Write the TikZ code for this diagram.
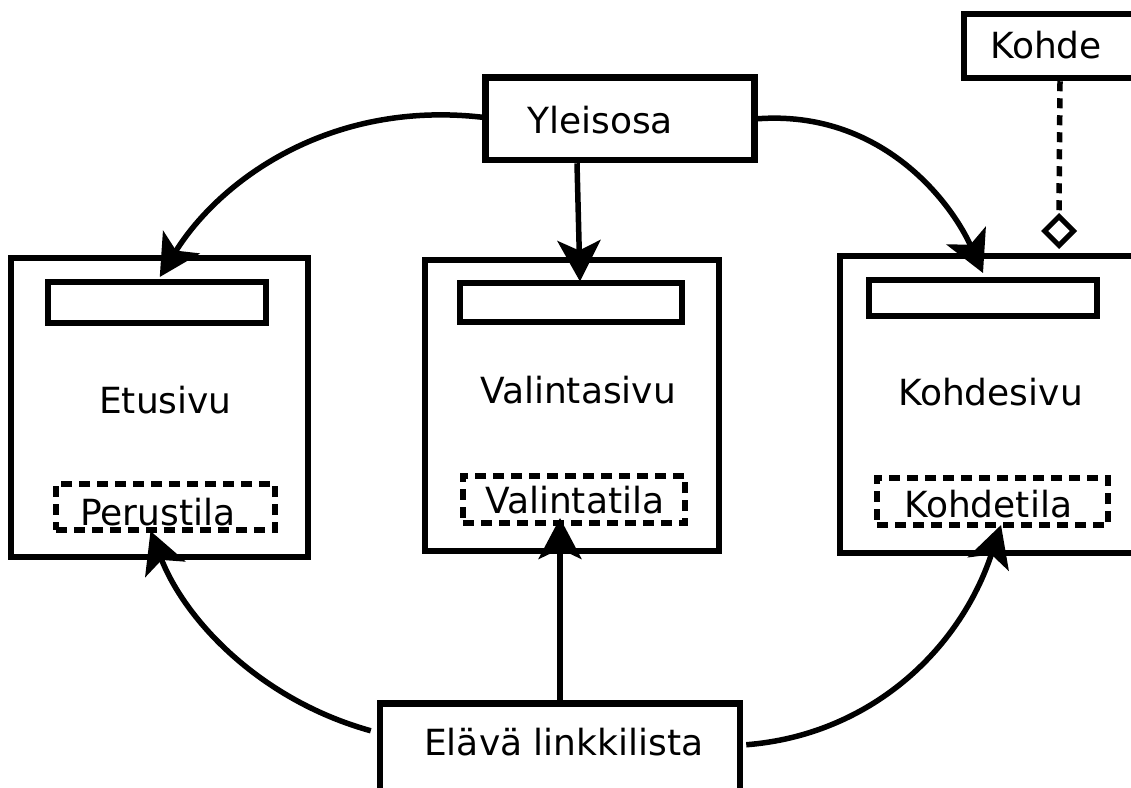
\documentclass[tikz,border=0pt]{standalone}
\usepackage{fontspec}
\setmainfont{DejaVu Sans}
\usetikzlibrary{arrows.meta,shapes.geometric}
\begin{document}
\begin{tikzpicture}[x=1pt,y=-1pt,
  box/.style={draw=black,line width=6.5pt,rectangle,inner sep=0pt},
  inbox/.style={draw=black,line width=6pt,rectangle,inner sep=0pt},
  dbox/.style={draw=black,line width=6pt,rectangle,inner sep=0pt,dash pattern=on 11pt off 7pt},
  lbl/.style={anchor=base west,inner sep=0pt,font=\fontsize{36}{43}\selectfont},
  conn/.style={draw=black,line width=5.5pt,-{Stealth[length=41pt,width=43pt,inset=10pt]}},
  dotl/.style={draw=black,line width=5.5pt,dash pattern=on 10pt off 7pt},
  diam/.style={draw=black,line width=5pt,diamond,inner sep=0pt,minimum width=31pt,minimum height=31pt,fill=white}
]
\useasboundingbox (0,0) rectangle (1131,787);
% boxes
\node[box,minimum width=269pt,minimum height=82.5pt] (yle) at (620,118.75) {};
\node[box,minimum width=176pt,minimum height=64pt] (kohde) at (1052,46) {};
\node[box,minimum width=297pt,minimum height=299pt] (etu) at (159.5,407.5) {};
\node[inbox,minimum width=218.5pt,minimum height=41pt] (etuT) at (156.75,302.5) {};
\node[dbox,minimum width=219pt,minimum height=46pt] (etuS) at (165.5,507) {};
\node[box,minimum width=294pt,minimum height=291pt] (val) at (572,405.5) {};
\node[inbox,minimum width=222pt,minimum height=39.5pt] (valT) at (571,302.25) {};
\node[dbox,minimum width=222pt,minimum height=47pt] (valS) at (574,499.5) {};
\node[box,minimum width=310pt,minimum height=297pt] (koh) at (995,404.5) {};
\node[inbox,minimum width=228pt,minimum height=36pt] (kohT) at (983,298) {};
\node[dbox,minimum width=231pt,minimum height=47pt] (kohS) at (992.5,501.5) {};
\node[box,minimum width=360pt,minimum height=96.5pt] (ela) at (560,751.75) {};
% labels
\node[lbl] (yleL) at (527,133) {Yleisosa};
\node[lbl] (kohdeL) at (990,58) {Kohde};
\node[lbl] (etuL) at (99,413) {Etusivu};
\node[lbl] (etuSL) at (80,525) {Perustila};
\node[lbl] (valL) at (480,403) {Valintasivu};
\node[lbl] (valSL) at (485,513) {Valintatila};
\node[lbl] (kohL) at (898,405) {Kohdesivu};
\node[lbl] (kohSL) at (904,517) {Kohdetila};
\node[lbl] (elaL) at (424,755) {Elävä linkkilista};
% aggregation link
\node[diam] (dia) at (1059,231) {};
\draw[dotl] ([xshift=8pt]kohde.south) -- (dia.north);
% connectors
\draw[conn] ([yshift=1.5pt]yle.west) .. controls (330,100) and (220,180) .. ([xshift=3pt,yshift=2pt]etuT.north);
\draw[conn] ([xshift=-43pt]yle.south) -- ([xshift=9pt,yshift=-2pt]valT.north);
\draw[conn] (yle.east) .. controls (880,110) and (950,200) .. ([yshift=4pt]kohT.north);
\draw[conn] ([xshift=-6pt,yshift=21pt]ela.west) .. controls (260,700) and (185,620) .. ([xshift=-15pt,yshift=2pt]etuS.south);
\path (ela.north |- valS.south) coordinate (vtip);
\draw[conn] (ela.north) -- ([yshift=8pt]vtip);
\draw[conn] ([xshift=3pt,yshift=7pt]ela.east) .. controls (870,735) and (960,650) .. ([xshift=8.5pt,yshift=3pt]kohS.south);
\end{tikzpicture}
\end{document}
